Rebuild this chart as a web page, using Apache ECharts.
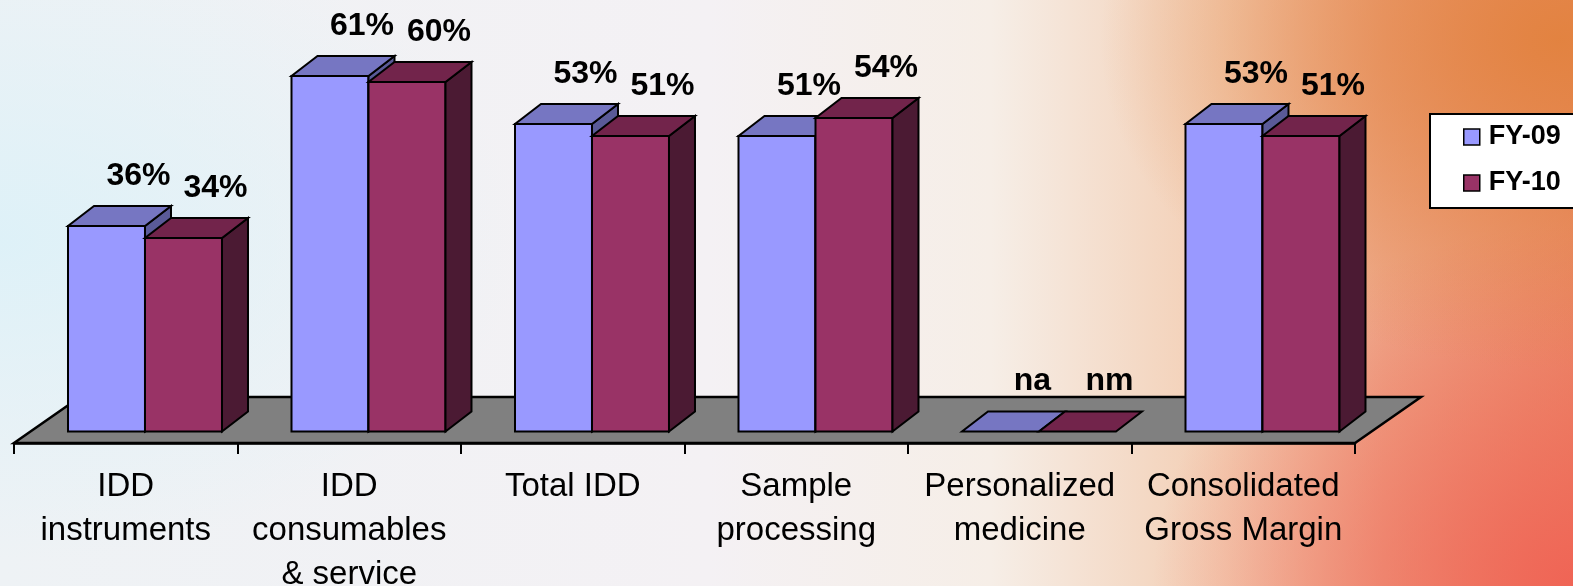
<!DOCTYPE html>
<html>
<head>
<meta charset="utf-8">
<script src="https://cdn.jsdelivr.net/npm/echarts@6/dist/echarts.min.js"></script>
<style>
  html, body { margin: 0; padding: 0; }
  #chart {
    width: 1573px; height: 586px;
    background:
      radial-gradient(ellipse 460px 330px at 1560px 40px, rgba(226,130,62,0.95), rgba(226,130,62,0) 100%),
      radial-gradient(ellipse 420px 360px at 1573px 586px, rgba(240,98,84,0.95), rgba(240,98,84,0) 100%),
      radial-gradient(ellipse 520px 320px at 0px 240px, rgba(220,241,248,0.9), rgba(220,241,248,0) 100%),
      linear-gradient(90deg, #eef2f5 0%, #f4f1f4 45%, #f6eee7 63%, #f3cdb2 78%, #eea98a 88%, #ea8e6c 100%);
  }
</style>
</head>
<body>
<div id="chart"></div>
<script>
// Gross margin by segment, FY-09 vs FY-10 (percent)
const categories = [
  'IDD\ninstruments',
  'IDD\nconsumables\n& service',
  'Total IDD',
  'Sample\nprocessing',
  'Personalized\nmedicine',
  'Consolidated\nGross Margin'
];
const seriesNames = ['FY-09', 'FY-10'];
const fy09 = [36, 61, 53, 51, null, 53];
const fy10 = [34, 60, 51, 54, null, 51];
// Text shown where a year has no value
const fy09Notes = ['', '', '', '', 'na', ''];
const fy10Notes = ['', '', '', '', 'nm', ''];

const FONT = '"Liberation Sans", Arial, sans-serif';
const palette = [
  { front: '#9999ff', top: '#7676c2', side: '#5a5a98' },
  { front: '#993366', top: '#72244b', side: '#4b1a33' }
];
// 3D projection of the box depth
const DEPTH_X = 26, DEPTH_Y = 20;
const FLOOR_X = 66, FLOOR_Y = 46;
const FRONT_LIFT = 11.5;

const allValues = [fy09, fy10];
const allNotes = [fy09Notes, fy10Notes];

function barGeom(api, cat, value, k) {
  const base = api.coord([cat, 0]);
  const band = api.size([1, 0])[0];
  const w = band * 0.3445;
  const x0 = base[0] - band / 2 + band * 0.2416 + k * w;
  const yb = base[1] - FRONT_LIFT;
  const yt = value == null ? yb : api.coord([cat, value])[1] - 1;
  return { x0, w, yb, yt };
}

function prismItem(k) {
  return function (params, api) {
    const i = params.dataIndex;
    const v = allValues[k][i];
    const g = barGeom(api, i, v, k);
    const c = palette[k];
    const stroke = { stroke: '#000', lineWidth: 2, lineJoin: 'miter' };
    const x1 = g.x0 + g.w;
    const children = [];
    if (v != null) {
      children.push({
        type: 'polygon',
        shape: { points: [[g.x0, g.yb], [x1, g.yb], [x1, g.yt], [g.x0, g.yt]] },
        style: Object.assign({ fill: c.front }, stroke)
      });
      children.push({
        type: 'polygon',
        shape: { points: [[x1, g.yb], [x1 + DEPTH_X, g.yb - DEPTH_Y], [x1 + DEPTH_X, g.yt - DEPTH_Y], [x1, g.yt]] },
        style: Object.assign({ fill: c.side }, stroke)
      });
    }
    children.push({
      type: 'polygon',
      shape: { points: [[g.x0, g.yt], [x1, g.yt], [x1 + DEPTH_X, g.yt - DEPTH_Y], [g.x0 + DEPTH_X, g.yt - DEPTH_Y]] },
      style: Object.assign({ fill: c.top }, stroke)
    });
    return { type: 'group', children };
  };
}

function floorItem(params, api) {
  const cs = params.coordSys;
  const yf = cs.y + cs.height;
  const xl = cs.x, xr = cs.x + cs.width;
  return {
    type: 'polygon',
    shape: { points: [[xl, yf], [xr, yf], [xr + FLOOR_X, yf - FLOOR_Y], [xl + FLOOR_X, yf - FLOOR_Y]] },
    style: { fill: '#808080', stroke: '#000', lineWidth: 2.5, lineJoin: 'miter' }
  };
}

function labelItem(params, api) {
  const i = params.dataIndex;
  const children = [];
  for (let k = 0; k < 2; k++) {
    const v = allValues[k][i];
    const g = barGeom(api, i, v, k);
    children.push({
      type: 'text',
      style: {
        x: g.x0 + g.w / 2 + 32,
        y: g.yt - 50,
        text: v == null ? allNotes[k][i] : v + '%',
        fill: '#000',
        font: 'bold 32px ' + FONT,
        align: 'center',
        verticalAlign: 'middle'
      }
    });
  }
  return { type: 'group', children };
}

const chart = echarts.init(document.getElementById('chart'), null, { renderer: 'canvas' });
chart.setOption({
  backgroundColor: 'transparent',
  animation: false,
  grid: { left: 14, right: 218, top: 23, bottom: 143, containLabel: false, outerBoundsMode: 'none' },
  legend: {
    data: seriesNames,
    orient: 'vertical',
    left: 1430,
    top: 114,
    backgroundColor: '#fff',
    borderColor: '#000',
    borderWidth: 2,
    borderRadius: 0,
    padding: [8, 30, 10, 33],
    itemGap: 16,
    itemWidth: 16,
    itemHeight: 16,
    icon: 'rect',
    itemStyle: { borderColor: '#000', borderWidth: 1.5 },
    textStyle: { fontFamily: FONT, fontWeight: 'bold', fontSize: 27, color: '#000', lineHeight: 30, padding: [0, 0, 0, 4] }
  },
  xAxis: {
    type: 'category',
    data: categories,
    axisLine: { show: true, lineStyle: { color: '#000', width: 2.5 } },
    axisTick: { show: true, length: 11, lineStyle: { color: '#000', width: 2 } },
    axisLabel: { interval: 0, margin: 22, fontFamily: FONT, fontSize: 33, lineHeight: 44, color: '#000' },
    splitLine: { show: false }
  },
  yAxis: {
    type: 'value', min: 0, max: 70, interval: 10, show: false,
    splitLine: { show: false }
  },
  series: [
    {
      name: 'floor', type: 'custom', z: 1, silent: true, clip: false,
      renderItem: floorItem, data: [[0, 0]]
    },
    {
      name: seriesNames[0], type: 'custom', z: 2, clip: false,
      itemStyle: { color: palette[0].front },
      renderItem: prismItem(0),
      data: fy09.map((v, i) => [i, v == null ? 0 : v])
    },
    {
      name: seriesNames[1], type: 'custom', z: 3, clip: false,
      itemStyle: { color: palette[1].front },
      renderItem: prismItem(1),
      data: fy10.map((v, i) => [i, v == null ? 0 : v])
    },
    {
      name: 'values', type: 'custom', z: 10, silent: true, clip: false,
      renderItem: labelItem,
      data: categories.map((c, i) => [i, 0])
    }
  ]
});
</script>
</body>
</html>
